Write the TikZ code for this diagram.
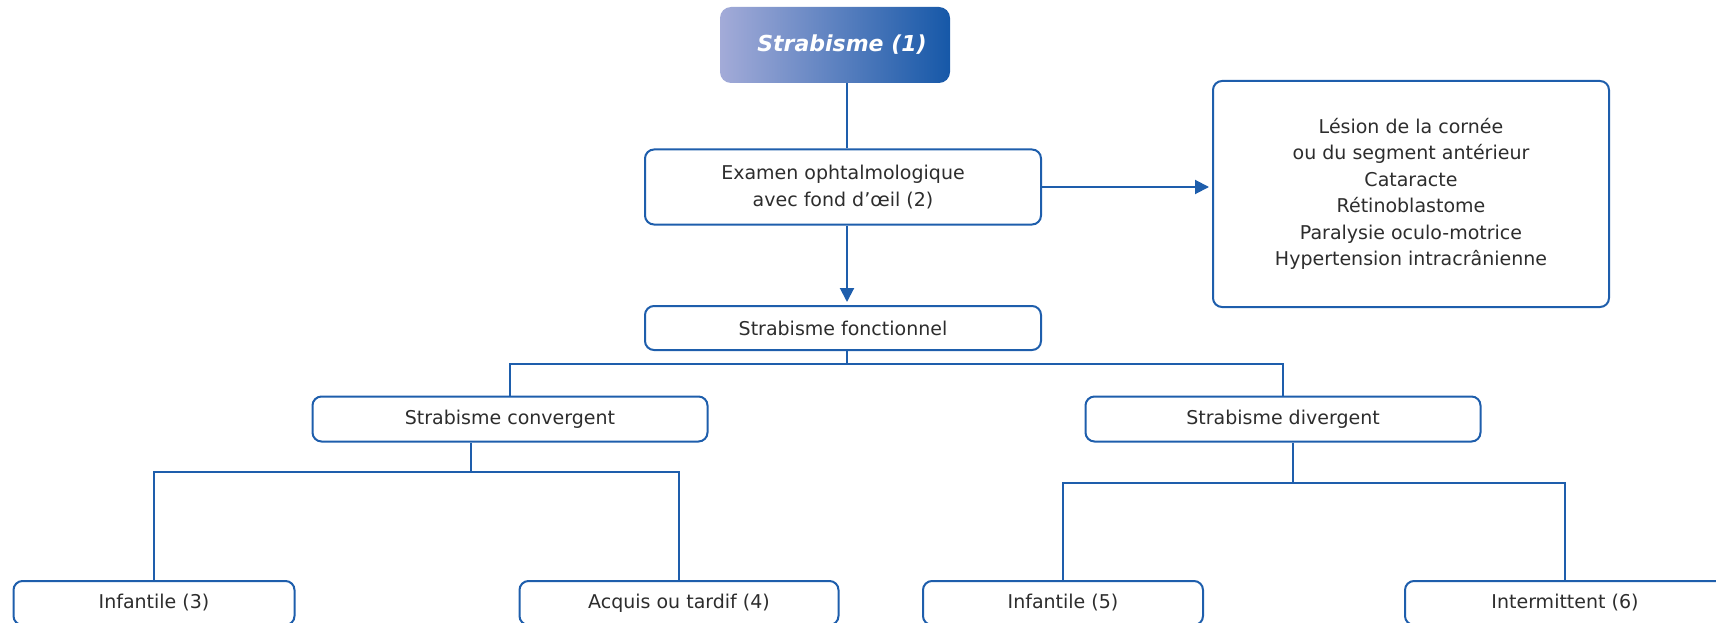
\documentclass[tikz,border=0pt]{standalone}
\usepackage{fontspec}
\setmainfont{DejaVu Sans}
\usetikzlibrary{positioning, arrows.meta, calc}

\definecolor{lineblue}{RGB}{30,94,172}
\definecolor{lightlav}{RGB}{163,171,216}
\definecolor{darkblue}{RGB}{22,88,168}
\definecolor{txtgray}{RGB}{45,45,45}

\tikzset{
    box/.style={draw=lineblue, line width=2pt, rounded corners=9pt,
        fill=white, text=txtgray, align=center,
        font=\fontsize{19}{26.5}\selectfont},
    link/.style={draw=lineblue, line width=2pt},
    tip/.style={link, -{Triangle[length=14pt, width=14pt]}}
}

\begin{document}
\begin{tikzpicture}[x=1pt, y=-1pt]
\clip (0,0) rectangle (1716,623);

\node[rounded corners=11pt,
        left color=lightlav, right color=darkblue,
        text=white,
        font=\fontsize{22}{26}\selectfont\bfseries\itshape,
        minimum width=230pt,
        minimum height=76pt] (title) at (835,45) {\hspace*{14pt}Strabisme (1)};

\node[box,
        minimum width=396pt,
        minimum height=75pt] (exam) at (843,187) {Examen ophtalmologique\\avec fond d’œil (2)};

\node[box,
        minimum width=396pt,
        minimum height=226pt] (lesion) at (1411,194) {Lésion de la cornée\\ou du segment antérieur\\Cataracte\\Rétinoblastome\\Paralysie oculo-motrice\\Hypertension intracrânienne};

\node[box,
        minimum width=396pt,
        minimum height=44pt] (fonct) at (843,328) {Strabisme fonctionnel};

\node[box,
        minimum width=395pt,
        minimum height=45pt] (conv) at (510,419) {Strabisme convergent};
\node[box,
        minimum width=395pt,
        minimum height=45pt] (div) at (1283,419) {Strabisme divergent};

\node[box,
        minimum width=281pt,
        minimum height=44pt] (infA) at (154,603) {Infantile (3)};
\node[box,
        minimum width=319pt,
        minimum height=44pt] (acq) at (679,603) {Acquis ou tardif (4)};
\node[box,
        minimum width=280pt,
        minimum height=44pt] (infB) at (1063,603) {Infantile (5)};
\node[box,
        minimum width=320pt,
        minimum height=44pt] (inter) at (1565,603) {Intermittent (6)};

% junctions
\coordinate (j1) at (847,364);
\coordinate (j2) at (471,472);
\coordinate (j3) at (1293,483);

\draw [link] (j1 |- exam.north) -- (j1 |- title.south);

\draw [tip, shorten >=3pt]
    (exam.east) -- (exam.east -| lesion.west);

\draw [tip, shorten >=3pt]
    (j1 |- exam.south) -- (j1 |- fonct.north);

\draw [link]
    (j1 |- fonct.south) -- (j1);
\draw [link]
    (conv.north) -- (conv.north |- j1) -- (div.north |- j1) -- (div.north);

\draw [link]
    (j2 |- conv.south) -- (j2);
\draw [link]
    (infA.north) -- (infA.north |- j2) -- (acq.north |- j2) -- (acq.north);

\draw [link]
    (j3 |- div.south) -- (j3);
\draw [link]
    (infB.north) -- (infB.north |- j3) -- (inter.north |- j3) -- (inter.north);

\end{tikzpicture}
\end{document}
